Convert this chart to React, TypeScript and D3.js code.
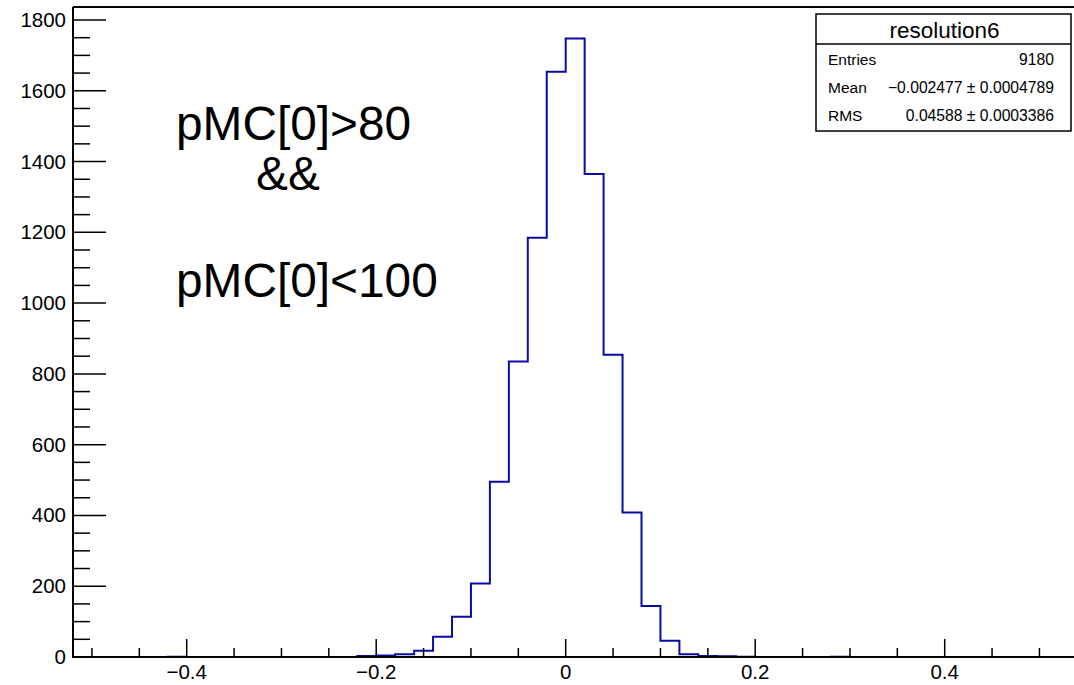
import React from "react";
import * as d3 from "d3";

// Histogram data (bins of width 0.02, low edge listed); all other bins are empty
const binLowEdges = [-0.42, -0.22, -0.2, -0.18, -0.16, -0.14, -0.12, -0.1, -0.08, -0.06, -0.04, -0.02, 0.0, 0.02, 0.04, 0.06, 0.08, 0.1, 0.12, 0.14, 0.16, 0.18, 0.28];
const binCounts = [1, 3, 4, 8, 18, 57, 114, 208, 495, 835, 1185, 1654, 1748, 1365, 854, 408, 144, 46, 8, 3, 2, 1, 1];
const binWidth = 0.02;
const xRange = [-0.52, 0.54];

const xMajorTicks = [-0.4, -0.2, 0, 0.2, 0.4];
const xTickLabels = ["\u22120.4", "\u22120.2", "0", "0.2", "0.4"];
const yMajorTicks = [0, 200, 400, 600, 800, 1000, 1200, 1400, 1600, 1800];

const statsTitle = "resolution6";
const statsLabels = ["Entries", "Mean", "RMS"];
const statsValues = ["9180", "\u22120.002477 \u00b1 0.0004789", "0.04588 \u00b1 0.0003386"];

const cutLines = ["pMC[0]>80", "&&", "pMC[0]<100"];

const FONT = "'Liberation Sans', Arial, Helvetica, sans-serif";

export default function App() {
  const W = 1074, H = 685;
  const left = 73, bottom = 657, top = 7;
  const x = d3.scaleLinear().domain(xRange).range([left, left + (xRange[1] - xRange[0]) * 947.5]);
  const y = d3.scaleLinear().domain([0, 1800]).range([bottom, 20]);

  // full histogram outline
  const nBins = Math.round((xRange[1] - xRange[0]) / binWidth);
  const pts: [number, number][] = [[xRange[0], 0]];
  for (let i = 0; i < nBins; i++) {
    const lo = xRange[0] + i * binWidth;
    const idx = binLowEdges.findIndex((e) => Math.abs(e - lo) < 1e-6);
    const c = idx >= 0 ? binCounts[idx] : 0;
    pts.push([lo, c], [lo + binWidth, c]);
  }
  pts.push([xRange[1], 0]);
  const line = d3.line<[number, number]>().x((d) => x(d[0])).y((d) => y(d[1]));

  const yMinor = d3.range(0, 1851, 50).filter((v) => v % 200 !== 0 && y(v) > top);
  const xMinor = d3.range(-0.5, 0.541, 0.05).filter((v) => Math.abs(Math.round(v / 0.2) * 0.2 - v) > 1e-6);

  const bx0 = 816, bx1 = 1071, by0 = 14, by1 = 131, bsep = 44;
  const rowY = [65, 93, 121];

  return (
    <svg width={W} height={H} style={{ position: "absolute", left: 0, top: 0, background: "#fff" }} fontFamily={FONT}>
      <rect x={0} y={0} width={W} height={H} fill="#fff" />
      <path d={line(pts) || ""} fill="none" stroke="#0a0aa5" strokeWidth={2} />
      {/* frame */}
      <line x1={left} x2={W} y1={top} y2={top} stroke="#000" strokeWidth={2} />
      <line x1={left} x2={left} y1={top} y2={bottom + 1} stroke="#000" strokeWidth={2} />
      <line x1={left - 1} x2={W} y1={bottom} y2={bottom} stroke="#000" strokeWidth={2.2} />
      {/* y ticks */}
      {yMajorTicks.map((v) => (
        <g key={"ym" + v}>
          <line x1={left} x2={left + 33} y1={y(v)} y2={y(v)} stroke="#000" strokeWidth={1.5} />
          <text x={left - 7} y={y(v) + 7} textAnchor="end" fontSize={20.5} fill="#000">{v}</text>
        </g>
      ))}
      {yMinor.map((v) => (
        <line key={"yn" + v} x1={left} x2={left + 17} y1={y(v)} y2={y(v)} stroke="#000" strokeWidth={1.5} />
      ))}
      {/* x ticks */}
      {xMajorTicks.map((v, i) => (
        <g key={"xm" + v}>
          <line x1={x(v)} x2={x(v)} y1={bottom} y2={bottom - 18} stroke="#000" strokeWidth={1.5} />
          <text x={x(v)} y={679} textAnchor="middle" fontSize={20.5} fill="#000">{xTickLabels[i]}</text>
        </g>
      ))}
      {xMinor.map((v) => (
        <line key={"xn" + v.toFixed(2)} x1={x(v)} x2={x(v)} y1={bottom} y2={bottom - 9} stroke="#000" strokeWidth={1.5} />
      ))}
      {/* cut text */}
      <text x={176} y={140} fontSize={47.8} fill="#000">{cutLines[0]}</text>
      <text x={256} y={190} fontSize={47.8} fill="#000">{cutLines[1]}</text>
      <text x={176} y={297} fontSize={47.8} fill="#000">{cutLines[2]}</text>
      {/* stats box */}
      <rect x={bx0} y={by0} width={bx1 - bx0} height={by1 - by0} fill="#fff" stroke="#000" strokeWidth={1.5} />
      <line x1={bx0} x2={bx1} y1={bsep} y2={bsep} stroke="#000" strokeWidth={1.5} />
      <text x={(bx0 + bx1) / 2 + 1} y={38} textAnchor="middle" fontSize={22.5} fill="#000">{statsTitle}</text>
      {statsLabels.map((l, i) => (
        <g key={l}>
          <text x={bx0 + 12} y={rowY[i]} fontSize={15.5} fill="#000">{l}</text>
          <text x={bx1 - 17} y={rowY[i]} textAnchor="end" fontSize={15.7} fill="#000">{statsValues[i]}</text>
        </g>
      ))}
    </svg>
  );
}
